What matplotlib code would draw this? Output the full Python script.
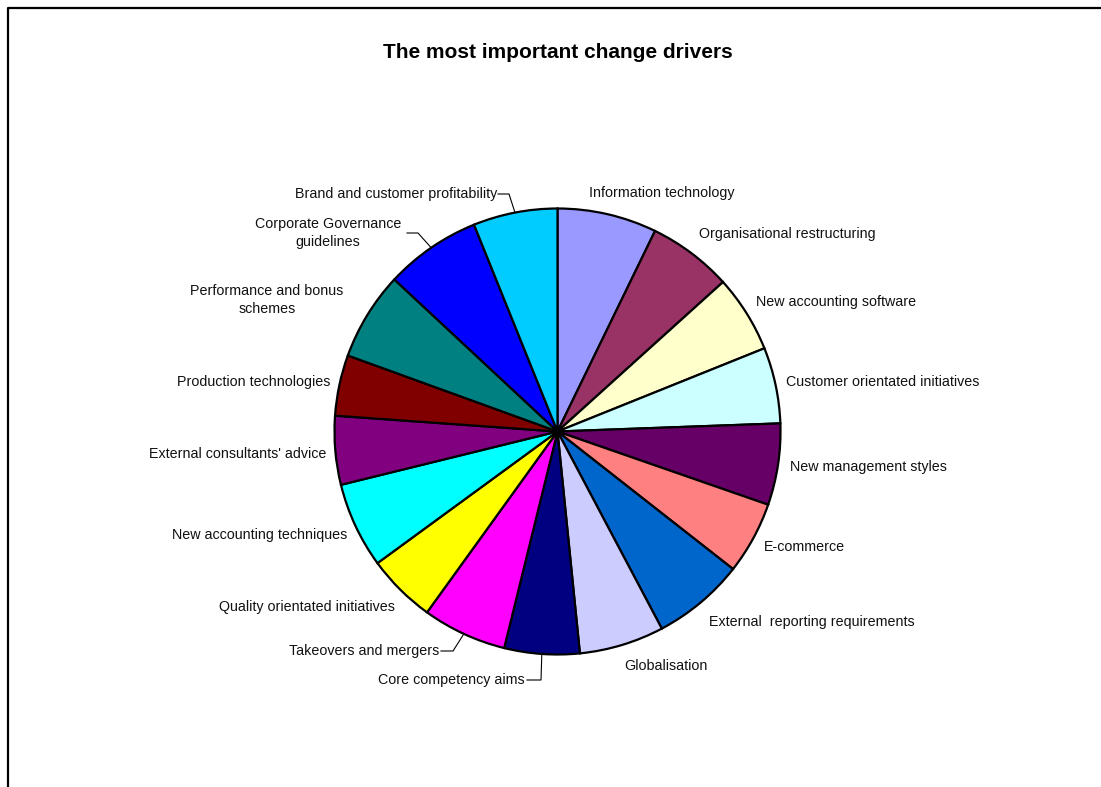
import numpy as np
import matplotlib
matplotlib.use("Agg")
import matplotlib.pyplot as plt
from matplotlib.lines import Line2D

plt.rcParams['font.family'] = ['Liberation Sans', 'DejaVu Sans']

# Share of each change driver (clockwise from 12 o'clock)
drivers = [
    "Information technology",
    "Organisational restructuring",
    "New accounting software",
    "Customer orientated initiatives",
    "New management styles",
    "E-commerce",
    "External  reporting requirements",
    "Globalisation",
    "Core competency aims",
    "Takeovers and mergers",
    "Quality orientated initiatives",
    "New accounting techniques",
    "External consultants' advice",
    "Production technologies",
    "Performance and bonus\nschemes",
    "Corporate Governance\nguidelines",
    "Brand and customer profitability",
]
shares = [7.2, 6.1, 5.6, 5.5, 5.9, 5.25, 6.67, 6.14, 5.44, 6.1,
          5.0, 6.2, 4.97, 4.4, 6.4, 6.95, 6.1]
colors = ["#9999FF", "#993366", "#FFFFCC", "#CCFFFF", "#660066", "#FF8080",
          "#0066CC", "#CCCCFF", "#000080", "#FF00FF", "#FFFF00", "#00FFFF",
          "#800080", "#800000", "#008080", "#0000FF", "#00CCFF"]

W, H = 1101, 787
fig = plt.figure(figsize=(W / 100, H / 100), dpi=100)
ax = fig.add_axes([0, 0, 1, 1])

def py(y):
    """Convert a top-down pixel row into the axes' upward y coordinate."""
    return H - y

cx, cy, R = 557.5, py(431.5), 223
wedges, _ = ax.pie(shares, colors=colors, startangle=90, counterclock=False,
                   center=(cx, cy), radius=R,
                   wedgeprops=dict(edgecolor="black", linewidth=1.6))
ax.set_xlim(0, W)
ax.set_ylim(0, H)
ax.set_aspect("equal")
ax.axis("off")

# label placement: (x, y, horizontal alignment)
label_pos = [
    (589, 193, "left"),
    (699, 234, "left"),
    (756, 302, "left"),
    (786, 382, "left"),
    (790, 467, "left"),
    (764, 547, "left"),
    (709, 622, "left"),
    (624, 666, "left"),
    (525, 680, "right"),
    (439, 651, "right"),
    (395, 607, "right"),
    (347, 535, "right"),
    (326, 454, "right"),
    (330, 382, "right"),
    (267, 300, "center"),
    (328, 233, "center"),
    (497, 194, "right"),
]
for name, (x, y, ha) in zip(drivers, label_pos):
    ax.text(x, py(y), name, ha=ha, va="center", fontsize=10.3,
            linespacing=1.35, color="#111111")

# leader lines: label end -> elbow -> wedge edge at mid angle
leaders = {
    "Brand and customer profitability": [(498, 194), (509, 194)],
    "Corporate Governance\nguidelines": [(407, 233), (418, 233)],
    "Takeovers and mergers": [(441, 651), (453, 651)],
    "Core competency aims": [(527, 680), (541, 680)],
}
for w, name in zip(wedges, drivers):
    if name in leaders:
        mid = np.deg2rad((w.theta1 + w.theta2) / 2)
        ex, ey = cx + R * np.cos(mid), cy + R * np.sin(mid)
        pts = leaders[name]
        xs = [p[0] for p in pts] + [ex]
        ys = [py(p[1]) for p in pts] + [ey]
        ax.plot(xs, ys, color="black", linewidth=0.8)

ax.text(558, py(52), "The most important change drivers", ha="center",
        va="center", fontsize=15, fontweight="bold", color="black")

# chart area border (top and left edges)
fig.add_artist(Line2D([8 / W, 8 / W, 1.0], [0.0, 1 - 8 / H, 1 - 8 / H],
                      transform=fig.transFigure, color="black", linewidth=1.6))

fig.savefig("out.png", dpi=100, facecolor="white")
